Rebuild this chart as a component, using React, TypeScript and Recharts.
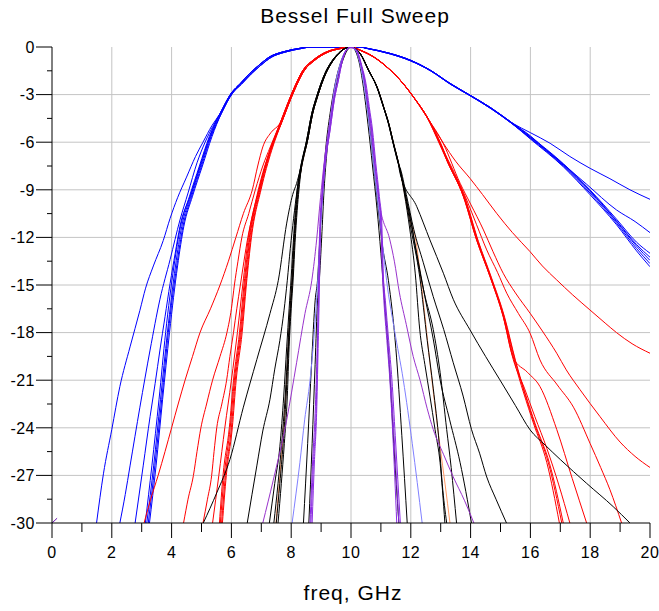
import { CartesianGrid, Line, LineChart, XAxis, YAxis } from "recharts";

type Pt = [number, number];

const freqTicks = [0, 1, 2, 3, 4, 5, 6, 7, 8, 9, 10, 11, 12, 13, 14, 15, 16, 17, 18, 19, 20];
const dbTicks = [0, -1.5, -3, -4.5, -6, -7.5, -9, -10.5, -12, -13.5, -15, -16.5, -18, -19.5, -21, -22.5, -24, -25.5, -27, -28.5, -30];
const freqGrid = [2, 4, 6, 8, 10, 12, 14, 16, 18];
const dbGrid = [-3, -6, -9, -12, -15, -18, -21, -24, -27];

const FONT = "'Liberation Sans', Arial, sans-serif";
const BLUE = "#0000ff";
const RED = "#ff0000";
const BLACK = "#000000";
const ORANGE = "#ff9966";
const PURPLE = "#8a2be2";
const VIOLET = "#9933cc";
const LAVENDER = "#8080ff";

// --- blue sweep (widest) ---
const blueTopA: Pt[] = [[5.62, -4.2], [6.0, -2.9], [6.3, -2.3], [6.62, -1.66], [6.95, -1.1], [7.29, -0.61], [7.74, -0.3], [8.29, -0.08], [8.63, 0], [10.3, 0], [10.53, -0.08], [11.3, -0.4], [11.97, -0.82], [12.64, -1.45], [13.31, -2.29], [13.9, -2.95], [14.65, -3.8], [15.4, -4.8]];
const blueTopB: Pt[] = [[5.66, -4.2], [6.04, -2.9], [6.34, -2.33], [6.66, -1.7], [6.99, -1.14], [7.33, -0.65], [7.78, -0.33], [8.33, -0.1], [8.68, 0], [10.28, 0], [10.55, -0.1], [11.32, -0.44], [11.99, -0.87], [12.66, -1.5], [13.33, -2.35], [13.92, -3.0], [14.68, -3.88], [15.42, -4.88]];

const blue1Left: Pt[] = [[1.49, -30], [1.72, -26.9], [2.0, -24.1], [2.27, -21.4], [2.61, -18.9], [2.94, -16.6], [3.13, -15.2], [3.39, -13.8], [3.72, -12.2], [3.95, -10.8], [4.2, -9.5], [4.5, -8.2], [4.8, -6.9], [5.05, -6.0], [5.35, -4.95]];
const blue1Right: Pt[] = [[16.0, -5.4], [16.66, -6.07], [17.32, -6.9], [18.0, -7.65], [18.66, -8.3], [19.33, -9.0], [20, -9.6]];
const blue2Left: Pt[] = [[2.27, -30], [2.45, -28.2], [2.61, -26.4], [2.94, -22.7], [3.28, -19.1], [3.61, -15.9], [3.95, -13.4], [4.28, -10.9], [4.55, -9.2], [4.85, -7.3], [5.12, -6.0], [5.38, -5.0]];
const blue2Right: Pt[] = [[16.0, -5.6], [16.54, -6.5], [17.2, -7.55], [17.88, -8.65], [18.88, -10.27], [19.5, -11.0], [20, -11.7]];
const blue3Left: Pt[] = [[2.78, -30], [3.05, -26.4], [3.28, -23.3], [3.45, -21.2], [3.61, -19.1], [3.78, -17.0], [3.95, -14.9], [4.12, -13.0], [4.28, -11.3], [4.62, -9.4], [4.95, -7.5], [5.28, -5.65]];
const blue3Right: Pt[] = [[16.0, -5.65], [17.1, -7.35], [17.99, -9.0], [18.88, -10.85], [19.55, -12.3], [20, -13.0]];
const blue4Left: Pt[] = [[3.12, -30], [3.34, -26.4], [3.58, -22.2], [3.8, -18.0], [4.08, -13.8], [4.3, -11.3], [4.6, -9.4], [4.93, -7.5], [5.26, -5.65]];
const blue4Right: Pt[] = [[16.0, -5.68], [17.1, -7.4], [17.99, -9.05], [18.88, -10.95], [19.55, -12.45], [20, -13.25]];
const blue5Left: Pt[] = [[3.17, -30], [3.4, -26.4], [3.63, -22.2], [3.86, -18.0], [4.13, -13.8], [4.34, -11.3], [4.64, -9.4], [4.97, -7.5], [5.3, -5.65]];
const blue5Right: Pt[] = [[16.0, -5.72], [17.1, -7.45], [17.99, -9.1], [18.88, -11.0], [19.55, -12.55], [20, -13.45]];
const blue6Left: Pt[] = [[3.22, -30], [3.44, -26.4], [3.67, -22.2], [3.89, -18.0], [4.17, -13.8], [4.38, -11.3], [4.67, -9.4], [5.0, -7.5], [5.32, -5.65]];
const blue6Right: Pt[] = [[16.0, -5.76], [17.1, -7.5], [17.99, -9.2], [18.88, -11.1], [19.55, -12.7], [20, -13.65]];
const blue7Left: Pt[] = [[3.26, -30], [3.48, -26.4], [3.7, -22.2], [3.93, -18.0], [4.2, -13.8], [4.41, -11.3], [4.7, -9.4], [5.03, -7.5], [5.35, -5.65]];
const blue7Right: Pt[] = [[16.0, -5.8], [17.1, -7.55], [17.99, -9.3], [18.88, -11.2], [19.55, -12.85], [20, -13.85]];

// --- red sweep ---
const redTopA: Pt[] = [[7.63, -4.8], [8.07, -2.71], [8.4, -1.45], [8.74, -0.82], [9.19, -0.3], [9.63, -0.08], [10.0, 0], [10.3, -0.19], [10.75, -0.61], [11.19, -1.24], [11.64, -2.08], [12.08, -3.13], [12.53, -4.39]];
const redTopB: Pt[] = [[7.67, -4.8], [8.1, -2.75], [8.43, -1.5], [8.77, -0.86], [9.22, -0.33], [9.66, -0.1], [10.02, 0], [10.32, -0.22], [10.78, -0.66], [11.22, -1.3], [11.67, -2.14], [12.11, -3.2], [12.56, -4.45]];

const red1Left: Pt[] = [[3.08, -30], [3.3, -28.5], [3.55, -27], [3.78, -25.5], [4.0, -24], [4.22, -22.5], [4.45, -21], [4.7, -19.5], [4.95, -18], [5.3, -16.5], [5.62, -15], [5.9, -13.5], [6.15, -12], [6.4, -10.5], [6.7, -9], [6.88, -7.5], [7.05, -6.3], [7.32, -5.4]];
const red1Right: Pt[] = [[13.09, -6.07], [13.5, -7.2], [13.98, -8.28], [14.4, -9.3], [14.87, -10.48], [15.4, -11.7], [15.99, -12.9], [16.4, -13.8], [16.88, -14.68], [17.4, -15.6], [17.99, -16.57], [18.5, -17.4], [18.88, -18.0], [19.4, -18.7], [20, -19.3]];
const red2Left: Pt[] = [[4.4, -30], [4.55, -28.5], [4.73, -27], [4.85, -25.5], [4.98, -24], [5.17, -22.5], [5.37, -21], [5.62, -19.5], [5.85, -18], [6.0, -16.5], [6.1, -15], [6.22, -13.5], [6.35, -12], [6.58, -10.5], [6.8, -9], [7.05, -7.5], [7.3, -6.3]];
const red2Right: Pt[] = [[13.09, -6.1], [13.65, -8.59], [14.0, -9.9], [14.43, -11.53], [14.75, -12.9], [15.09, -14.26], [15.5, -15.5], [15.99, -16.78], [16.4, -17.9], [16.88, -19.3], [17.2, -20.35], [17.66, -21.6], [18.33, -23.3], [19.0, -24.9], [19.5, -25.8], [20, -26.5]];
const red3Left: Pt[] = [[5.05, -30], [5.2, -28.5], [5.34, -27], [5.42, -25.5], [5.51, -24], [5.68, -22.5], [5.84, -21], [5.95, -19.5], [6.07, -18], [6.18, -16.5], [6.3, -15], [6.42, -13.5], [6.55, -12], [6.72, -10.5], [6.9, -9], [7.1, -7.6], [7.32, -6.4]];
const red3Right: Pt[] = [[13.0, -6.2], [13.45, -7.9], [13.87, -9.64], [14.2, -11.2], [14.54, -12.79], [14.9, -14.2], [15.21, -15.52], [15.6, -16.8], [15.99, -18.04], [16.32, -19.72], [16.9, -21.3], [17.44, -22.7], [18.0, -25.0], [18.35, -26.5], [18.66, -27.9], [19.05, -30]];
const red4Left: Pt[] = [[5.37, -30], [5.58, -27], [5.78, -24], [6.0, -21], [6.2, -18], [6.38, -15], [6.57, -12], [6.92, -9], [7.3, -6.45]];
const red4Right: Pt[] = [[12.98, -6.2], [13.2, -7.12], [13.76, -9.43], [14.2, -12.16], [14.65, -14.47], [15.09, -16.99], [15.43, -19.6], [15.9, -20.5], [16.32, -21.4], [16.88, -24.1], [17.4, -27.2], [17.88, -30]];
const red5Left: Pt[] = [[5.6, -30], [5.72, -27], [5.93, -24], [6.07, -21], [6.27, -18], [6.42, -15], [6.6, -12], [6.93, -9], [7.29, -6.5]];
const red5Right: Pt[] = [[12.98, -6.07], [13.2, -7.12], [13.76, -9.43], [14.2, -12.16], [14.65, -14.47], [15.09, -16.99], [15.43, -19.72], [15.8, -21.5], [16.15, -23.3], [16.55, -25.3], [16.95, -27.6], [17.32, -30]];
const red6Left: Pt[] = [[5.63, -30], [5.76, -27], [5.96, -24], [6.1, -21], [6.3, -18], [6.45, -15], [6.62, -12], [6.95, -9], [7.31, -6.5]];
const red6Right: Pt[] = [[12.98, -6.1], [13.22, -7.2], [13.78, -9.5], [14.22, -12.2], [14.66, -14.5], [15.1, -17.0], [15.45, -19.7], [16.1, -23.7], [16.55, -26.2], [16.97, -30]];
const red7Left: Pt[] = [[5.67, -30], [5.8, -27], [6.0, -24], [6.13, -21], [6.33, -18], [6.48, -15], [6.65, -12], [6.97, -9], [7.33, -6.5]];
const red7Right: Pt[] = [[13.0, -6.1], [13.24, -7.2], [13.8, -9.5], [14.24, -12.2], [14.68, -14.5], [15.12, -17.0], [15.48, -19.7], [16.13, -23.7], [16.6, -26.2], [17.05, -30]];
const red8Left: Pt[] = [[5.7, -30], [5.83, -27], [6.03, -24], [6.16, -21], [6.36, -18], [6.5, -15], [6.67, -12], [6.99, -9], [7.35, -6.5]];
const red8Right: Pt[] = [[13.02, -6.15], [13.26, -7.25], [13.82, -9.55], [14.26, -12.25], [14.7, -14.55], [15.14, -17.05], [15.5, -19.75], [16.16, -23.75], [16.64, -26.25], [17.1, -30]];

// --- black sweep ---
const blackTopA: Pt[] = [[8.3, -7.75], [8.52, -5.86], [8.69, -4.18], [8.85, -3.13], [9.13, -1.66], [9.35, -0.92], [9.58, -0.4], [9.8, -0.08], [10.0, 0], [10.3, -0.4], [10.58, -1.45], [10.86, -2.5], [11.08, -3.76], [11.25, -4.81], [11.41, -6.07], [11.58, -7.33]];
const blackTopB: Pt[] = [[8.33, -7.75], [8.55, -5.86], [8.72, -4.18], [8.88, -3.13], [9.16, -1.66], [9.38, -0.92], [9.6, -0.4], [9.82, -0.08], [10.02, 0], [10.32, -0.45], [10.6, -1.5], [10.88, -2.56], [11.1, -3.82], [11.27, -4.87], [11.43, -6.13], [11.6, -7.4]];

const black1Left: Pt[] = [[5.06, -30], [5.51, -28.1], [5.95, -26.0], [6.4, -22.7], [6.85, -19.7], [7.29, -16.8], [7.57, -14.7], [7.85, -11.1], [8.05, -9.3], [8.18, -8.6]];
const black1Right: Pt[] = [[11.64, -7.96], [12.2, -10.06], [12.64, -12.16], [13.09, -14.26], [13.42, -15.9], [13.98, -17.83], [14.5, -19.5], [14.98, -20.98], [15.5, -22.6], [15.99, -24.13], [16.5, -25.1], [17.0, -26.0], [17.88, -27.5], [18.77, -28.97], [19.33, -30]];
const black2Left: Pt[] = [[6.53, -30], [6.85, -26.4], [7.05, -24.2], [7.29, -22.2], [7.45, -20.3], [7.62, -18.5], [7.76, -16.6], [7.87, -14.7], [7.97, -12.7], [8.08, -10.8], [8.2, -9.0]];
const black2Right: Pt[] = [[11.64, -7.6], [11.85, -9.3], [12.1, -11.5], [12.42, -13.6], [12.75, -15.73], [13.1, -17.8], [13.42, -19.9], [13.75, -22.0], [14.03, -24.1], [14.3, -25.6], [14.54, -27.1], [14.85, -28.5], [15.2, -30]];
const black3Left: Pt[] = [[7.27, -30], [7.45, -27.5], [7.62, -25.2], [7.75, -22], [7.85, -18.9], [7.93, -16.5], [8.0, -14.5], [8.07, -12.3], [8.14, -10.3], [8.2, -9.0]];
const black3Right: Pt[] = [[11.81, -9.22], [12.03, -11.32], [12.25, -13.5], [12.47, -15.73], [12.75, -18.4], [12.98, -20.98], [13.3, -23.5], [13.65, -26.2], [14.03, -30]];
const black4Left: Pt[] = [[7.42, -30], [7.56, -27.5], [7.68, -25.0], [7.8, -22], [7.89, -18.9], [7.96, -16.5], [8.03, -14.5], [8.09, -12.3], [8.16, -10.3], [8.22, -9.0]];
const black4Right: Pt[] = [[11.82, -9.3], [12.05, -11.4], [12.14, -12.5], [12.45, -15.5], [12.75, -17.8], [12.98, -20.5], [13.2, -24.1], [13.35, -26.5], [13.53, -30]];
const black5Left: Pt[] = [[7.5, -30], [7.62, -27.5], [7.73, -25.0], [7.83, -22], [7.91, -18.9], [7.98, -16.5], [8.05, -14.5], [8.11, -12.3], [8.18, -10.3], [8.24, -9.0]];
const black5Right: Pt[] = [[11.8, -9.22], [12.0, -11.4], [12.3, -14.5], [12.55, -18.5], [12.75, -21.5], [12.95, -25.0], [13.05, -27.5], [13.2, -30]];
const black6Left: Pt[] = [[7.56, -30], [7.67, -27.5], [7.77, -25.0], [7.87, -22], [7.93, -18.9], [8.0, -16.5], [8.07, -14.5], [8.13, -12.3], [8.2, -10.3], [8.26, -9.0]];
const black6Right: Pt[] = [[11.78, -9.2], [11.97, -11.53], [12.15, -14.3], [12.3, -17.83], [12.47, -20.0], [12.64, -22.0], [12.81, -24.1], [12.98, -26.2], [13.14, -30]];
const black7: Pt[] = [[8.41, -30], [8.55, -25], [8.68, -20], [8.8, -16], [8.88, -14.7], [8.96, -12], [9.05, -9], [9.15, -6.5], [9.3, -4.2], [9.45, -2.5], [9.65, -1.0], [9.9, -0.1], [10.0, 0], [10.25, -0.6], [10.45, -2.2], [10.6, -4.6], [10.75, -7.3], [10.9, -10], [11.05, -12.5], [11.25, -14.7], [11.5, -19], [11.7, -24.5], [11.88, -30]];
const black8: Pt[] = [[8.59, -30], [8.7, -25], [8.8, -20], [8.88, -16], [8.94, -14.7], [9.02, -12], [9.1, -9], [9.2, -6.5], [9.35, -4.2], [9.5, -2.5], [9.7, -1.0], [9.92, -0.1], [10.02, 0], [10.25, -0.8], [10.42, -2.6], [10.57, -4.9], [10.72, -7.5], [10.87, -10.2], [11.0, -13.0], [11.12, -16], [11.28, -20], [11.43, -25], [11.6, -30]];

const orangeLeft: Pt[] = [[7.49, -30], [7.6, -27.5], [7.71, -25.0], [7.82, -22], [7.9, -18.9], [7.97, -16.5], [8.04, -14.5], [8.1, -12.3], [8.17, -10.3], [8.23, -9.0]];
const orangeRight: Pt[] = [[11.79, -9.2], [11.98, -11.0], [12.14, -11.9], [12.4, -15.7], [12.64, -19.9], [12.8, -22.5], [12.98, -25.2], [13.15, -27.6], [13.31, -30]];

// --- purple sweep (narrowest) ---
const purpleTopA: Pt[] = [[8.98, -11.1], [9.04, -9.43], [9.14, -7.33], [9.3, -5.23], [9.46, -3.13], [9.58, -2.08], [9.69, -1.03], [9.85, -0.19], [10.0, 0], [10.17, -0.19], [10.35, -1.24], [10.47, -2.29], [10.58, -3.76], [10.69, -5.23], [10.8, -7.33], [10.92, -9.43], [11.0, -11.1]];
const purpleTopB: Pt[] = [[8.96, -11.1], [9.02, -9.43], [9.11, -7.33], [9.27, -5.23], [9.43, -3.13], [9.56, -2.08], [9.67, -1.03], [9.84, -0.19], [10.0, 0], [10.19, -0.19], [10.37, -1.24], [10.5, -2.29], [10.61, -3.76], [10.72, -5.23], [10.83, -7.33], [10.95, -9.43], [11.03, -11.1]];

const purple1Left: Pt[] = [[8.63, -30], [8.72, -26], [8.8, -23.1], [8.87, -19], [8.92, -15.5], [8.95, -13.2]];
const purple1Right: Pt[] = [[11.05, -14.3], [11.1, -16], [11.2, -18.5], [11.3, -21], [11.4, -24.5], [11.53, -30]];
const purple2Left: Pt[] = [[8.66, -30], [8.75, -26], [8.83, -23.1], [8.88, -19], [8.91, -15.5], [8.93, -13.2]];
const purple2Right: Pt[] = [[11.08, -14.3], [11.13, -16], [11.23, -18.5], [11.33, -21], [11.44, -24.5], [11.6, -30]];
const purple3Left: Pt[] = [[8.7, -30], [8.78, -26], [8.85, -23.1], [8.9, -19], [8.94, -15.5], [8.96, -13.2]];
const purple3Right: Pt[] = [[11.07, -14.3], [11.15, -16], [11.26, -18.5], [11.37, -21], [11.48, -24.5], [11.65, -30]];
const violetWide: Pt[] = [[7.05, -30], [7.4, -27.3], [7.85, -23.5], [8.18, -19.9], [8.46, -16.8], [8.69, -14.7], [8.85, -12.16], [8.98, -9.5], [9.12, -7.0], [9.28, -4.8], [9.44, -2.7], [9.68, -0.9], [9.95, -0.05], [10.1, -0.1], [10.3, -0.9], [10.5, -2.8], [10.65, -5.0], [10.8, -7.5], [10.97, -10.06], [11.3, -12.16], [11.45, -13.5], [11.62, -15.5], [11.85, -17.5], [12.08, -19.5], [12.31, -21.0], [12.55, -22.8], [12.75, -24.1], [13.1, -25.7], [13.42, -27.1], [13.8, -28.6], [14.11, -30]];
const lavender: Pt[] = [[8.03, -30], [8.29, -26.2], [8.45, -23.5], [8.63, -21.0], [8.78, -17.8], [8.88, -15.0], [8.95, -12.5], [9.03, -10], [9.14, -7.2], [9.28, -5.0], [9.42, -3.0], [9.62, -1.2], [9.88, -0.1], [10.0, 0], [10.15, -0.2], [10.35, -1.5], [10.55, -4.0], [10.7, -6.5], [10.85, -9.0], [10.97, -11.0], [11.1, -13.2], [11.19, -14.7], [11.45, -17.8], [11.75, -21.0], [12.05, -25.0], [12.38, -30]];
const originMark: Pt[] = [[0, -30], [0.17, -29.7]];

type Curve = { id: string; color: string; points: Pt[] };

const curves: Curve[] = [
  { id: "b1", color: BLUE, points: [...blue1Left, ...blueTopA, ...blue1Right] },
  { id: "b2", color: BLUE, points: [...blue2Left, ...blueTopA, ...blue2Right] },
  { id: "b3", color: BLUE, points: [...blue3Left, ...blueTopA, ...blue3Right] },
  { id: "b4", color: BLUE, points: [...blue4Left, ...blueTopA, ...blue4Right] },
  { id: "b5", color: BLUE, points: [...blue5Left, ...blueTopB, ...blue5Right] },
  { id: "b6", color: BLUE, points: [...blue6Left, ...blueTopB, ...blue6Right] },
  { id: "b7", color: BLUE, points: [...blue7Left, ...blueTopB, ...blue7Right] },
  { id: "r1", color: RED, points: [...red1Left, ...redTopA, ...red1Right] },
  { id: "r2", color: RED, points: [...red2Left, ...redTopA, ...red2Right] },
  { id: "r3", color: RED, points: [...red3Left, ...redTopA, ...red3Right] },
  { id: "r4", color: RED, points: [...red4Left, ...redTopA, ...red4Right] },
  { id: "r5", color: RED, points: [...red5Left, ...redTopB, ...red5Right] },
  { id: "r6", color: RED, points: [...red6Left, ...redTopB, ...red6Right] },
  { id: "r7", color: RED, points: [...red7Left, ...redTopB, ...red7Right] },
  { id: "r8", color: RED, points: [...red8Left, ...redTopB, ...red8Right] },
  { id: "o1", color: ORANGE, points: [...orangeLeft, ...blackTopB, ...orangeRight] },
  { id: "k1", color: BLACK, points: [...black1Left, ...blackTopA, ...black1Right] },
  { id: "k2", color: BLACK, points: [...black2Left, ...blackTopA, ...black2Right] },
  { id: "k3", color: BLACK, points: [...black3Left, ...blackTopA, ...black3Right] },
  { id: "k4", color: BLACK, points: [...black4Left, ...blackTopB, ...black4Right] },
  { id: "k5", color: BLACK, points: [...black5Left, ...blackTopB, ...black5Right] },
  { id: "k6", color: BLACK, points: [...black6Left, ...blackTopB, ...black6Right] },
  { id: "k7", color: BLACK, points: black7 },
  { id: "k8", color: BLACK, points: black8 },
  { id: "p4", color: VIOLET, points: violetWide },
  { id: "p5", color: LAVENDER, points: lavender },
  { id: "p1", color: PURPLE, points: [...purple1Left, ...purpleTopA, ...purple1Right] },
  { id: "p2", color: PURPLE, points: [...purple2Left, ...purpleTopB, ...purple2Right] },
  { id: "p3", color: PURPLE, points: [...purple3Left, ...purpleTopA, ...purple3Right] },
  { id: "m0", color: "#6a0dad", points: originMark },
];

const toRows = (pts: Pt[]) => pts.map(([freq, db]) => ({ freq, db }));

function DbTick({ x, y, payload }: any) {
  const v = payload.value as number;
  const major = v % 3 === 0;
  return (
    <g>
      <line x1={x - (major ? 16 : 5)} x2={x} y1={y} y2={y} stroke="#000" />
      {major && (
        <text x={x - 17} y={y} dy="0.36em" textAnchor="end" fontSize={16} fill="#000" letterSpacing={0.5} fontFamily={FONT}>
          {v}
        </text>
      )}
    </g>
  );
}

function FreqTick({ x, y, payload }: any) {
  const v = payload.value as number;
  const major = v % 2 === 0;
  return (
    <g>
      <line x1={x} x2={x} y1={y} y2={y + (major ? 15 : 9)} stroke="#000" />
      {major && (
        <text x={x} y={y + 35} textAnchor="middle" fontSize={16} fill="#000" letterSpacing={0.5} fontFamily={FONT}>
          {v}
        </text>
      )}
    </g>
  );
}

export default function App() {
  return (
    <div style={{ position: "absolute", left: 0, top: 0, width: 659, height: 611, background: "#fff", fontFamily: FONT }}>
      <LineChart width={659} height={611} margin={{ top: 47, right: 9, bottom: 28, left: 0 }}>
        <CartesianGrid stroke="#c4c4c4" horizontalValues={dbGrid} verticalValues={freqGrid} />
        <XAxis
          dataKey="freq"
          type="number"
          domain={[0, 20]}
          ticks={freqTicks}
          interval={0}
          allowDataOverflow
          height={60}
          tickSize={0}
          tickMargin={0}
          tickLine={false}
          axisLine={{ stroke: "#000" }}
          tick={<FreqTick />}
        />
        <XAxis xAxisId="top" orientation="top" type="number" domain={[0, 20]} height={0} tick={false} tickLine={false} axisLine={{ stroke: "#808080" }} />
        <YAxis
          type="number"
          domain={[-30, 0]}
          ticks={dbTicks}
          interval={0}
          allowDataOverflow
          width={52}
          tickSize={0}
          tickMargin={0}
          tickLine={false}
          axisLine={{ stroke: "#000" }}
          tick={<DbTick />}
        />
        <YAxis yAxisId="right" orientation="right" type="number" domain={[-30, 0]} width={0} tick={false} tickLine={false} axisLine={{ stroke: "#808080" }} />
        {curves.map((c) => (
          <Line
            key={c.id}
            data={toRows(c.points)}
            dataKey="db"
            type="monotoneX"
            stroke={c.color}
            strokeWidth={1}
            dot={false}
            activeDot={false}
            isAnimationActive={false}
          />
        ))}
      </LineChart>
      <svg width={659} height={611} style={{ position: "absolute", left: 0, top: 0, pointerEvents: "none" }}>
        <text x={355} y={23} textAnchor="middle" fontSize={21} letterSpacing={1} fill="#000" fontFamily={FONT}>
          Bessel Full Sweep
        </text>
        <text x={353} y={600} textAnchor="middle" fontSize={21} letterSpacing={1} fill="#000" fontFamily={FONT}>
          freq, GHz
        </text>
      </svg>
    </div>
  );
}
